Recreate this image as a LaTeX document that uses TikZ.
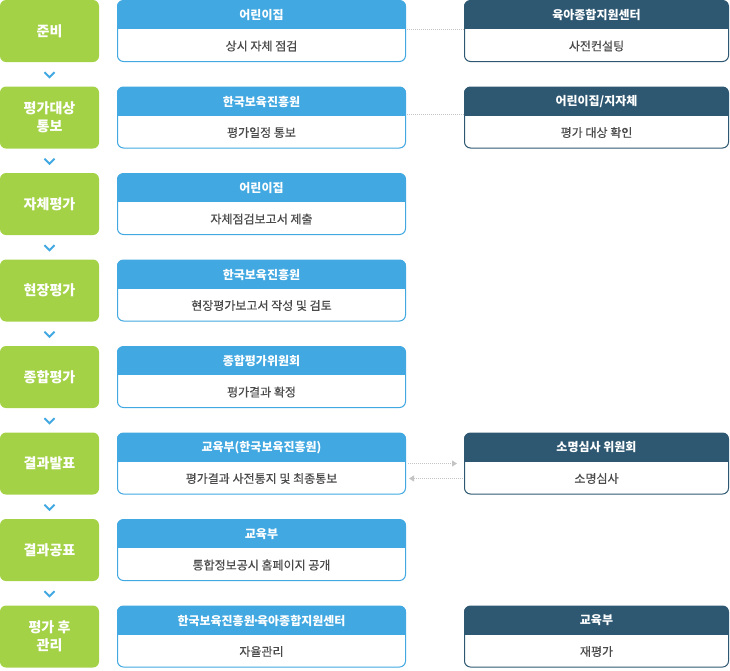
\documentclass[tikz,border=0pt]{standalone}
\usepackage{fontspec}
\setmainfont{Noto Sans CJK KR}
\usetikzlibrary{arrows.meta}

\definecolor{stepgreen}{HTML}{A4D247}
\definecolor{orgblue}{HTML}{41A8E1}
\definecolor{orgdark}{HTML}{2E5872}
\definecolor{bodygray}{HTML}{4A4A4A}
\definecolor{linkgray}{HTML}{C4C4C4}

\begin{document}
\begin{tikzpicture}[x=1pt, y=-1pt,
    stepnode/.style={fill=stepgreen, rounded corners=6pt, minimum width=99pt, minimum height=62pt,
        inner sep=0pt, text=white, align=center, font=\bfseries\fontsize{14}{18}\selectfont},
    orgbox/.style={draw=#1, line width=1pt, rounded corners=6pt, minimum height=61pt, inner sep=0pt},
    headtext/.style={text=white, font=\bfseries\fontsize{12}{14}\selectfont},
    bodytext/.style={text=bodygray, font=\fontsize{12}{14}\selectfont\addfontfeatures{FakeBold=0.4}},
    link/.style={linkgray, densely dotted, line width=1pt},
    linktip/.style={-{Triangle[width=6pt, length=5pt]}}]

    \useasboundingbox (0,0) rectangle (730,670);

    % Steps (green) and the boards doing them (blue)
    \foreach \i/\steptext/\head/\body in {
        1/준비/어린이집/상시 자체 점검,
        2/{평가대상\\통보}/한국보육진흥원/평가일정 통보,
        3/자체평가/어린이집/자체점검보고서 제출,
        4/현장평가/한국보육진흥원/현장평가보고서 작성 및 검토,
        5/종합평가/종합평가위원회/평가결과 확정,
        6/결과발표/교육부(한국보육진흥원)/평가결과 사전통지 및 최종통보,
        7/결과공표/교육부/통합정보공시 홈페이지 공개,
        8/{평가 후\\관리}/{한국보육진흥원\kern-2.5pt·\kern-2.5pt육아종합지원센터}/자율관리} {
        \pgfmathsetmacro{\t}{(\i-1)*86.5}
        \node[stepnode] (s\i) at (49.5, \t+31) {\steptext};
        \begin{scope}
            \clip[rounded corners=6pt] (117, \t+0.5) rectangle (406, \t+61.5);
            \fill[orgblue] (117, \t) rectangle (406, \t+29);
        \end{scope}
        \node[orgbox=orgblue, minimum width=288pt] (b\i) at (261.5, \t+31) {};
        \node[headtext] (bh\i) at (261.5, \t+15) {\head};
        \node[bodytext] (bb\i) at (261.5, \t+46) {\body};
    }

    % Chevrons between steps
    \foreach \i in {1,...,7} {
        \draw[orgblue, line width=2pt] ([xshift=-5pt, yshift=-10pt]s\i.south)
            -- ([yshift=-15pt]s\i.south) -- ([xshift=5pt, yshift=-10pt]s\i.south);
    }

    % Partner boards (dark)
    \foreach \i/\head/\body in {
        1/육아종합지원센터/사전컨설팅,
        2/{어린이집/지자체}/평가 대상 확인,
        6/소명심사 위원회/소명심사,
        8/교육부/재평가} {
        \pgfmathsetmacro{\t}{(\i-1)*86.5}
        \begin{scope}
            \clip[rounded corners=6pt] (464, \t+0.5) rectangle (729, \t+61.5);
            \fill[orgdark] (464, \t) rectangle (729, \t+29);
        \end{scope}
        \node[orgbox=orgdark, minimum width=264pt] (d\i) at (596.5, \t+31) {};
        \node[headtext] (dh\i) at (596.5, \t+15) {\head};
        \node[bodytext] (db\i) at (596.5, \t+46) {\body};
    }

    % Links
    \draw[link] ([xshift=1pt, yshift=2pt]b1.east) -- ([yshift=2pt]d1.west);
    \draw[link] ([xshift=1pt, yshift=3pt]b2.east) -- ([yshift=3pt]d2.west);
    \draw[link, linktip] ([xshift=2pt]b6.east) -- ([xshift=-7pt]d6.west);
    \draw[link, linktip] ([xshift=-1pt, yshift=-15pt]d6.west) -- ([xshift=3pt, yshift=-15pt]b6.east);
\end{tikzpicture}
\end{document}
